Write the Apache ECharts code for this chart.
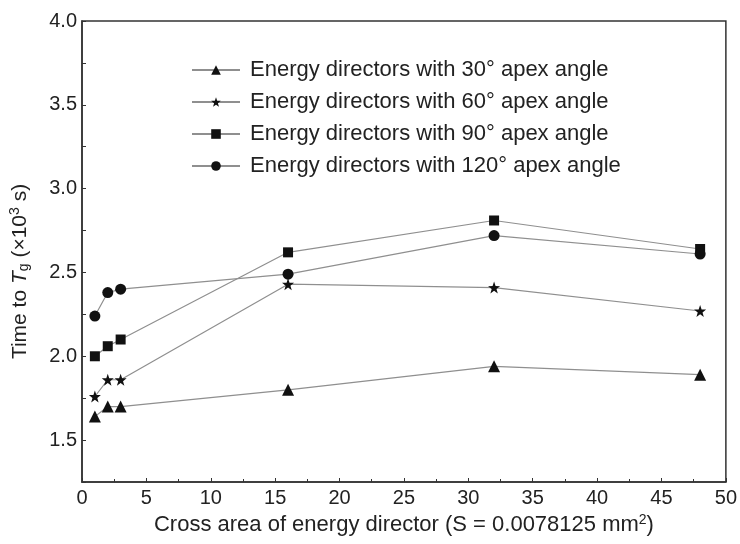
<!DOCTYPE html>
<html>
<head>
<meta charset="utf-8">
<script src="https://cdn.jsdelivr.net/npm/echarts@6/dist/echarts.min.js"></script>
<style>html,body{margin:0;padding:0;background:#fff}#c{width:740px;height:544px}</style>
</head>
<body>
<div id="c"></div>
<script>
const xValues = [1, 2, 3, 16, 32, 48];
const apex30 = [1.64, 1.70, 1.70, 1.80, 1.94, 1.89];
const apex60 = [1.76, 1.86, 1.86, 2.43, 2.41, 2.27];
const apex90 = [2.00, 2.06, 2.10, 2.62, 2.81, 2.64];
const apex120 = [2.24, 2.38, 2.40, 2.49, 2.72, 2.61];
const seriesNames = [
  'Energy directors with 30\u00b0 apex angle',
  'Energy directors with 60\u00b0 apex angle',
  'Energy directors with 90\u00b0 apex angle',
  'Energy directors with 120\u00b0 apex angle'
];

const FONT = '"Liberation Sans", Arial, sans-serif';
const chart = echarts.init(document.getElementById('c'), null, {renderer: 'canvas'});

function mk(name, vals, symbol, size) {
  return {
    name: name, type: 'line',
    data: xValues.map((x, i) => [x, vals[i]]),
    symbol: symbol, symbolSize: size,
    itemStyle: {color: '#111', borderWidth: 0},
    lineStyle: {color: '#8f8f8f', width: 1.2},
    emphasis: {disabled: true},
    z: 3
  };
}
const axisLine = {show: true, onZero: false, lineStyle: {color: '#333', width: 1.5}};

chart.setOption({
  animation: false,
  backgroundColor: '#fff',
  textStyle: {fontFamily: FONT},
  grid: {left: 82, right: 13, top: 21, bottom: 62, show: true, borderColor: '#333', borderWidth: 1.5, containLabel: false},
  legend: {
    left: 186, top: 54, orient: 'vertical',
    itemWidth: 48, itemHeight: 12, itemGap: 10,
    data: seriesNames,
    textStyle: {fontSize: 22, color: '#222', fontFamily: FONT, padding: [0, 0, 0, 5]},
    selectedMode: false
  },
  xAxis: {
    type: 'value', min: 0, max: 50, interval: 5,
    axisLine: axisLine,
    axisTick: {inside: true, length: 4, lineStyle: {color: '#333'}},
    minorTick: {show: true, splitNumber: 2, length: 3, lineStyle: {color: '#333'}},
    splitLine: {show: false},
    axisLabel: {fontSize: 20, color: '#222', margin: 6, fontFamily: FONT},
    name: '{t|Cross area of energy director (S = 0.0078125 mm}{sup|2}{t|)}',
    nameLocation: 'middle', nameGap: 28,
    nameTextStyle: {
      fontFamily: FONT,
      rich: {
        t: {fontSize: 22, color: '#222', fontFamily: FONT},
        sup: {fontSize: 14, color: '#222', fontFamily: FONT, padding: [0, 0, 10, 0]}
      }
    }
  },
  yAxis: {
    type: 'value', min: 1.25, max: 4.0, interval: 0.25,
    axisLine: axisLine,
    axisTick: {inside: true, length: 4, lineStyle: {color: '#333'}},
    splitLine: {show: false},
    axisLabel: {
      fontSize: 20, color: '#222', margin: 5, fontFamily: FONT,
      formatter: v => (Math.abs(v * 2 - Math.round(v * 2)) < 1e-6 ? v.toFixed(1) : '')
    },
    name: '{t|Time to }{it|T}{sub|g}{t| (\u00d710}{sup|3}{t| s)}',
    nameLocation: 'middle', nameGap: 50,
    nameTextStyle: {
      fontFamily: FONT,
      padding: [0, 40, 0, 0],
      rich: {
        t: {fontSize: 21, color: '#222', fontFamily: FONT},
        it: {fontSize: 21, color: '#222', fontFamily: FONT, fontStyle: 'italic'},
        sub: {fontSize: 14, color: '#222', fontFamily: FONT, padding: [9, 0, 0, 0]},
        sup: {fontSize: 14, color: '#222', fontFamily: FONT, padding: [0, 0, 10, 0]}
      }
    }
  },
  series: [
    mk(seriesNames[0], apex30, 'triangle', 12),
    mk(seriesNames[1], apex60, 'path://M0,-10 L2.35,-3.24 L9.51,-3.09 L3.8,1.24 L5.88,8.09 L0,4 L-5.88,8.09 L-3.8,1.24 L-9.51,-3.09 L-2.35,-3.24 Z', 12),
    mk(seriesNames[2], apex90, 'rect', 10),
    mk(seriesNames[3], apex120, 'circle', 11)
  ]
});
</script>
</body>
</html>
